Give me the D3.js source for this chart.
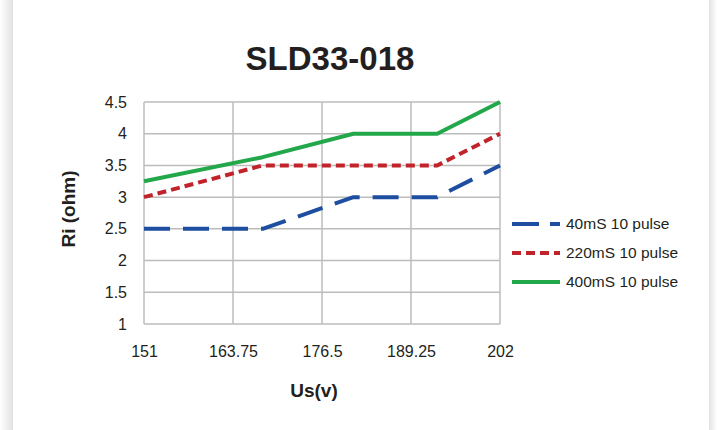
<!DOCTYPE html>
<html>
<head>
<meta charset="utf-8">
<script src="https://cdn.jsdelivr.net/npm/d3@7"></script>
<style>
  body { margin: 0; background: #ffffff; }
  svg { display: block; font-family: "Liberation Sans", Arial, sans-serif; }
</style>
</head>
<body>
<div id="chart"></div>
<script>
// Data
const voltages = [151, 168, 181, 193, 202];
const xTicks = [151, 163.75, 176.5, 189.25, 202];
const yTicks = [1, 1.5, 2, 2.5, 3, 3.5, 4, 4.5];
const seriesNames = ['40mS 10 pulse', '220mS 10 pulse', '400mS 10 pulse'];
const ri40 = [2.5, 2.5, 3, 3, 3.5];
const ri220 = [3, 3.5, 3.5, 3.5, 4];
const ri400 = [3.25, 3.63, 4, 4, 4.5];

const width = 717;
const height = 430;
const margin = { left: 144, right: 217, top: 102, bottom: 106 };
const textColor = '#231f20';

const series = [
  { name: seriesNames[0], values: ri40, color: '#1e4ea0', dash: '26,13' },
  { name: seriesNames[1], values: ri220, color: '#c1232b', dash: '9,5' },
  { name: seriesNames[2], values: ri400, color: '#22a84b', dash: null },
];

const svg = d3.select('#chart').append('svg').attr('width', width).attr('height', height);

// card background with soft side shadows
const defs = svg.append('defs');
const gl = defs.append('linearGradient').attr('id', 'shadowL');
gl.append('stop').attr('offset', '0%').attr('stop-color', '#ffffff');
gl.append('stop').attr('offset', '100%').attr('stop-color', '#e2e2e2');
const gr = defs.append('linearGradient').attr('id', 'shadowR');
gr.append('stop').attr('offset', '0%').attr('stop-color', '#e2e2e2');
gr.append('stop').attr('offset', '100%').attr('stop-color', '#ffffff');
svg.append('rect').attr('x', 0).attr('y', 0).attr('width', 13).attr('height', height).attr('fill', 'url(#shadowL)');
svg.append('rect').attr('x', 709).attr('y', 0).attr('width', 8).attr('height', height).attr('fill', 'url(#shadowR)');

const x = d3.scaleLinear().domain([151, 202]).range([margin.left, width - margin.right]);
const y = d3.scaleLinear().domain([1, 4.5]).range([height - margin.bottom, margin.top]);

// grid
const grid = svg.append('g').attr('stroke', '#bcbcbc').attr('stroke-width', 1.5);
grid.selectAll('line.h').data(yTicks).join('line')
  .attr('x1', x(151)).attr('x2', x(202))
  .attr('y1', (d) => y(d)).attr('y2', (d) => y(d));
grid.selectAll('line.v').data(xTicks).join('line')
  .attr('y1', y(1)).attr('y2', y(4.5))
  .attr('x1', (d) => x(d)).attr('x2', (d) => x(d));

// axes (labels only, no domain/tick marks)
const yAxis = svg.append('g').attr('transform', `translate(${x(151)},0)`)
  .call(d3.axisLeft(y).tickValues(yTicks).tickSize(0).tickPadding(17).tickFormat(d3.format('')));
const xAxis = svg.append('g').attr('transform', `translate(0,${y(1)})`)
  .call(d3.axisBottom(x).tickValues(xTicks).tickSize(0).tickPadding(22).tickFormat((d) => String(d)));
[xAxis, yAxis].forEach((a) => {
  a.select('.domain').remove();
  a.selectAll('text').attr('fill', textColor).style('font-size', '16px');
});

// lines
const line = d3.line().x((d, i) => x(voltages[i])).y((d) => y(d));
svg.append('g').selectAll('path').data(series).join('path')
  .attr('d', (d) => line(d.values))
  .attr('fill', 'none')
  .attr('stroke', (d) => d.color)
  .attr('stroke-width', 4)
  .attr('stroke-linejoin', 'round')
  .attr('stroke-dasharray', (d) => d.dash);

// title and axis titles
svg.append('text').attr('x', 330).attr('y', 70).attr('text-anchor', 'middle')
  .attr('fill', textColor).style('font-size', '33px').style('font-weight', 'bold').text('SLD33-018');
svg.append('text').attr('x', 314).attr('y', 397).attr('text-anchor', 'middle')
  .attr('fill', textColor).style('font-size', '19px').style('font-weight', 'bold').text('Us(v)');
svg.append('text').attr('transform', 'translate(75,209) rotate(-90)').attr('text-anchor', 'middle')
  .attr('fill', textColor).style('font-size', '19px').style('font-weight', 'bold').text('Ri (ohm)');

// legend
const legend = svg.append('g').attr('transform', 'translate(512,224)');
const items = legend.selectAll('g').data(series).join('g')
  .attr('transform', (d, i) => `translate(0,${i * 29})`);
items.append('line').attr('x1', 0).attr('x2', 48).attr('y1', 0).attr('y2', 0)
  .attr('stroke', (d) => d.color).attr('stroke-width', 4)
  .attr('stroke-dasharray', (d, i) => (i === 0 ? '27,11' : d.dash));
items.append('text').attr('x', 54).attr('y', 5).attr('fill', textColor)
  .style('font-size', '15.5px').text((d) => d.name);
</script>
</body>
</html>
